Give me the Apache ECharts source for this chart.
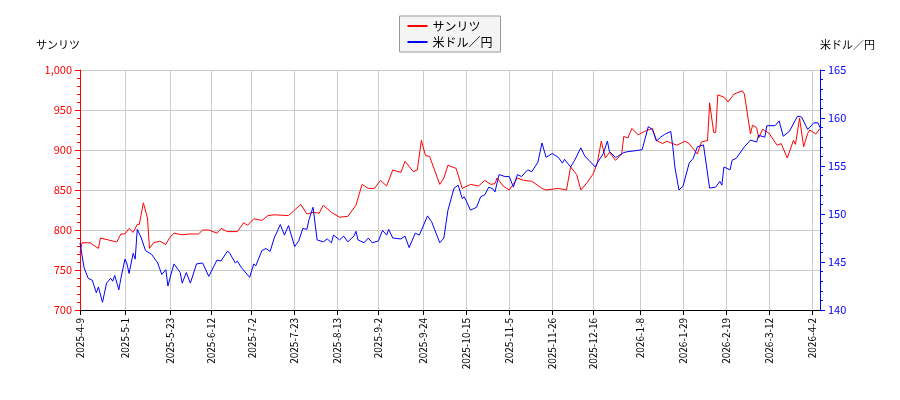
<!DOCTYPE html>
<html><head><meta charset="utf-8">
<script src="https://cdn.jsdelivr.net/npm/echarts@6/dist/echarts.min.js"></script>
<style>html,body{margin:0;background:#fff}#c{width:900px;height:400px}</style>
</head><body><div id="c"></div>
<script>
// 日数は 2025-4-9 からの経過日
var startDate = Date.UTC(2025, 3, 9);
var tickDays = [0,22,44,64,84,105,126,146,168,189,210,231,251,274,295,316,337,358];
var redDays = [0,1,5,9,10,18,20,22,24,26,28,29,31,33,34,36,39,42,44,46,50,53,58,60,63,67,69,72,77,80,82,85,89,92,95,102,105,108,111,114,117,119,123,127,131,135,138,141,144,147,150,153,157,159,163,165,167,169,171,176,178,180,184,187,191,195,198,201,203,204,207,210,214,217,221,226,228,234,238,240,243,245,248,251,253,255,257,259,262,265,266,268,270,273,276,280,282,285,287,292,296,298,302,304,307,308,310,311,312,315,317,320,324,325,328,329,331,332,334,337,341,343,346,349,350,352,354,356,357,360,362];
var redVals = [771,784,784,777,790,785,795,795,802,797,807,807,834,815,777,784,786,782,791,796,794,795,795,800,800,796,802,798,798,809,806,814,812,818,819,818,825,832,820,822,821,831,822,816,817,831,857,852,852,862,855,875,872,886,873,875,912,893,892,857,865,881,877,852,857,855,862,857,858,865,855,850,865,862,861,852,850,852,850,879,869,850,859,870,883,911,890,897,887,895,917,915,927,919,923,927,912,908,911,906,911,908,895,910,912,959,922,922,969,966,960,970,974,970,920,931,928,915,926,921,906,908,890,912,907,940,904,921,925,920,927];
var blueDays = [0,2,4,6,8,9,11,13,15,16,17,19,20,22,23,24,26,27,28,30,32,35,38,40,42,43,45,46,49,50,52,54,57,60,63,67,69,72,73,76,77,79,83,85,86,89,91,93,95,98,100,102,105,107,109,111,112,114,116,119,121,123,124,127,129,131,134,135,136,139,141,143,146,148,150,151,153,157,159,161,164,166,170,172,176,178,180,183,185,187,188,191,194,196,198,200,202,203,205,208,210,212,214,216,219,221,224,226,228,231,234,236,237,240,242,245,247,249,252,253,256,258,259,262,263,266,268,272,275,278,280,282,284,286,289,290,291,293,295,298,300,302,305,308,311,313,314,315,318,319,321,325,328,331,332,335,336,340,342,344,347,351,353,356,359,361,362];
var blueVals = [147.0,144.4,143.3,143.1,141.8,142.4,140.8,142.8,143.3,143.0,143.6,142.1,143.3,145.3,144.8,143.8,145.9,145.3,148.4,147.5,146.2,145.8,144.9,143.7,144.2,142.5,144.1,144.8,143.9,142.8,143.9,142.8,144.8,144.9,143.5,145.2,145.1,146.1,146.0,144.9,145.1,144.4,143.4,144.8,144.6,146.2,146.4,146.1,147.5,148.9,147.8,148.8,146.6,147.2,148.5,148.4,149.4,150.7,147.3,147.1,147.4,147.0,147.8,147.3,147.7,147.1,147.7,148.2,147.3,147.0,147.5,147.0,147.2,148.3,147.8,148.4,147.5,147.4,147.7,146.5,148.0,147.8,149.8,149.2,147.0,147.5,150.4,152.7,153.0,151.6,151.8,150.4,150.7,151.8,152.0,152.8,152.6,152.3,154.1,153.9,153.9,152.8,154.1,153.9,154.6,154.4,155.4,157.4,155.9,156.3,155.9,155.3,155.7,154.9,155.6,156.9,156.0,155.6,154.9,155.3,156.3,157.6,156.5,155.9,156.0,156.4,156.5,156.6,156.7,159.1,158.8,157.6,158.0,158.3,158.6,157.0,154.9,152.5,152.9,155.3,155.8,157.0,157.2,152.7,152.8,153.4,153.0,154.9,154.6,155.6,155.8,157.0,157.7,157.5,158.2,158.0,159.2,159.2,159.7,158.1,158.6,160.2,160.1,158.8,159.5,159.5,159.0];

function pairs(days, vals){
    return days.map(function(d,i){ return [d, vals[i]]; });
}
function dayLabel(v){
    var d = new Date(startDate + v*86400000);
    return d.getUTCFullYear()+'-'+(d.getUTCMonth()+1)+'-'+d.getUTCDate();
}
var font = '"Noto Sans CJK JP", sans-serif';
var chart = echarts.init(document.getElementById('c'));
chart.setOption({
    animation:false,
    textStyle:{fontFamily:font},
    legend:{
        top:16, left:'center', orient:'vertical', itemGap:4,
        borderColor:'#999', borderWidth:1, borderRadius:0, padding:[4,8],
        backgroundColor:'#f4f4f4',
        itemWidth:20, itemHeight:2, icon:'rect',
        textStyle:{fontSize:12, color:'#000'},
        data:['サンリツ','米ドル／円']
    },
    grid:{left:80, right:80, top:70, bottom:90},
    xAxis:{
        type:'value', min:0, max:362,
        axisLine:{lineStyle:{color:'#000'}},
        axisTick:{customValues:tickDays, lineStyle:{color:'#000'}},
        axisLabel:{customValues:tickDays, rotate:90, fontSize:10, color:'#000', formatter:dayLabel},
        splitLine:{show:true, lineStyle:{color:'#ccc'}}
    },
    yAxis:[{
        type:'value', min:700, max:1000, interval:50,
        name:'サンリツ', nameLocation:'end', nameGap:20,
        nameTextStyle:{color:'#000', fontSize:11, align:'right'},
        axisLine:{show:true, lineStyle:{color:'red'}},
        axisTick:{show:true, lineStyle:{color:'red'}},
        minorTick:{show:true, splitNumber:5, lineStyle:{color:'red'}},
        axisLabel:{color:'red', fontSize:11},
        splitLine:{lineStyle:{color:'#ccc'}}
    },{
        type:'value', min:140, max:165, interval:5,
        name:'米ドル／円', nameLocation:'end', nameGap:20,
        nameTextStyle:{color:'#000', fontSize:11, align:'left'},
        axisLine:{show:true, lineStyle:{color:'blue'}},
        axisTick:{show:true, lineStyle:{color:'blue'}},
        minorTick:{show:true, splitNumber:5, lineStyle:{color:'blue'}},
        axisLabel:{color:'blue', fontSize:11},
        splitLine:{show:false}
    }],
    series:[{
        name:'サンリツ', type:'line', yAxisIndex:0, showSymbol:false,
        lineStyle:{color:'red', width:1}, itemStyle:{color:'red'},
        data:pairs(redDays, redVals)
    },{
        name:'米ドル／円', type:'line', yAxisIndex:1, showSymbol:false,
        lineStyle:{color:'blue', width:1}, itemStyle:{color:'blue'},
        data:pairs(blueDays, blueVals)
    }]
});
</script>
</body></html>
